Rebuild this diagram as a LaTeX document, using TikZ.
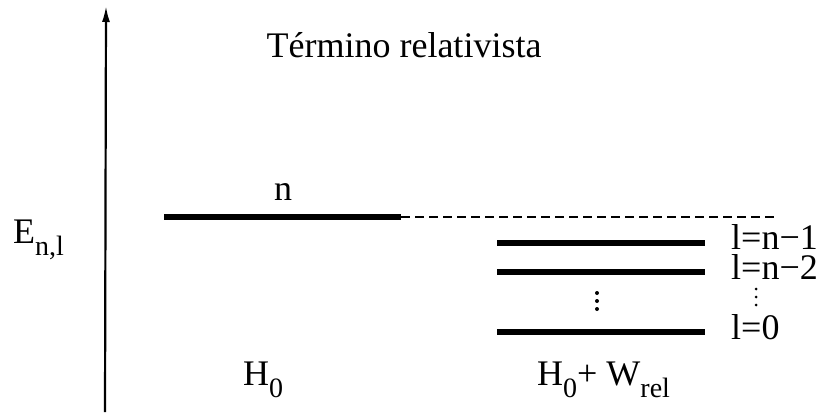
\documentclass[tikz,border=0pt]{standalone}
\usepackage{fontspec}
\setmainfont{Liberation Serif}
\usetikzlibrary{arrows.meta}
\newcommand\sbs[1]{\raisebox{-0.36em}{\fontsize{28}{30}\selectfont #1}}
\begin{document}
\begin{tikzpicture}[x=1pt,y=-1pt,
  txt/.style={inner sep=0pt,font=\fontsize{36}{40}\selectfont},
  level/.style={line width=6pt},
  axisline/.style={line width=2.2pt,-{Latex[length=16pt,width=8pt]}},
  dashlevel/.style={line width=1.8pt,dash pattern=on 9pt off 5pt},
  vdot/.style={fill=black,circle,inner sep=0pt,minimum size=4pt}]
\useasboundingbox (0,0) rectangle (819,418);
% axis
\coordinate (ab) at (105,412);
\coordinate (at) at (106,6);
\draw[axisline] (ab) -- (at);
% labels
\node[txt,anchor=base] (title) at (404,57) {Término relativista};
\node[txt,anchor=base west] (E) at (13,243) {E\sbs{n,l}};
\node[txt,anchor=base] (n) at (283,200) {n};
\node[txt,anchor=base west] (H0) at (243,385) {H\sbs{0}};
\node[txt,anchor=base west] (HW) at (537,385) {H\sbs{0}+ W\sbs{rel}};
% unperturbed level
\coordinate (n1) at (164,217);
\coordinate (n2) at (401,217);
\coordinate (d2) at (778,217);
\draw[level] (n1) -- (n2);
\draw[dashlevel] (n2) -- (d2);
% split levels
\coordinate (a1) at (497,243); \coordinate (a2) at (705,243);
\coordinate (b1) at (497,272); \coordinate (b2) at (705,272);
\coordinate (c1) at (497,332); \coordinate (c2) at (705,332);
\draw[level] (a1) -- (a2);
\draw[level] (b1) -- (b2);
\draw[level] (c1) -- (c2);
\node[txt,anchor=base west] (la) at (731,249) {l=n−1};
\node[txt,anchor=base west] (lb) at (731,279) {l=n−2};
\node[txt,anchor=base west] (lc) at (731,339) {l=0};
% vertical dots
\node[vdot] (p1) at (597,293) {};
\node[vdot] (p2) at (597,301) {};
\node[vdot] (p3) at (597,309) {};
\node[vdot,minimum size=3pt] (q1) at (756,289) {};
\node[vdot,minimum size=3pt] (q2) at (756,297) {};
\node[vdot,minimum size=3pt] (q3) at (756,305) {};
\end{tikzpicture}
\end{document}
